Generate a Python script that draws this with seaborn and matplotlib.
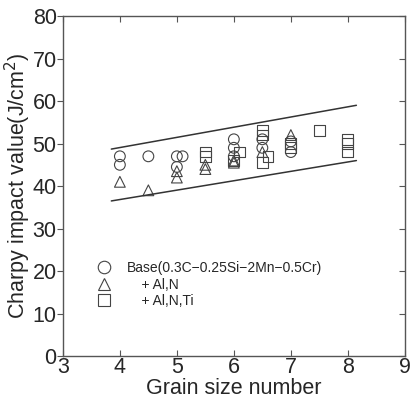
import matplotlib
matplotlib.use("Agg")
import matplotlib.pyplot as plt
import seaborn as sns
import pandas as pd

# -------- data --------
base_x = [4.0, 4.0, 4.5, 5.0, 5.1, 5.0, 6.0, 6.0, 6.0, 6.5, 6.5, 7.0, 7.0]
base_y = [47, 45, 47, 47, 47, 44.5, 51, 49, 47, 51, 49, 50.5, 48]

aln_x = [4.0, 4.5, 5.0, 5.0, 5.5, 5.5, 6.0, 6.0, 6.5, 7.0]
aln_y = [41, 39, 43.5, 42, 45, 44, 46, 45.5, 48, 52]

alnti_x = [5.5, 5.5, 6.1, 6.0, 6.5, 6.5, 6.6, 6.5, 7.0, 7.0, 7.5, 8.0, 8.0, 8.0]
alnti_y = [48, 47, 48, 46, 53, 52, 47, 45.5, 50, 49, 53, 51, 50, 48]

band_x = [3.85, 8.15]
upper_y = [48.7, 59.0]
lower_y = [36.5, 46.0]

labels = ["Base(0.3C\u22120.25Si\u22122Mn\u22120.5Cr)", "    + Al,N", "    + Al,N,Ti"]

df = pd.DataFrame({
    "grain": base_x + aln_x + alnti_x,
    "charpy": base_y + aln_y + alnti_y,
    "steel": [labels[0]] * len(base_x) + [labels[1]] * len(aln_x) + [labels[2]] * len(alnti_x),
})

sns.set_style("white")
plt.rcParams["font.family"] = ["Liberation Sans", "DejaVu Sans"]

fig = plt.figure(figsize=(4.11, 4.01), dpi=100)
ax = fig.add_axes([0.153, 0.112, 0.832, 0.848])

sns.scatterplot(data=df, x="grain", y="charpy", hue="steel", style="steel",
                markers=["o", "^", "s"], palette=["#444444"] * 3,
                s=60, linewidth=0.8, ax=ax)
# hollow markers
for coll in ax.collections:
    coll.set_facecolor("none")
    coll.set_edgecolor("#444444")

sns.lineplot(x=band_x, y=upper_y, color="#333333", linewidth=1.1, ax=ax)
sns.lineplot(x=band_x, y=lower_y, color="#333333", linewidth=1.1, ax=ax)

ax.set_xlim(3, 9)
ax.set_ylim(0, 80)
ax.set_xticks(range(3, 10))
ax.set_yticks(range(0, 81, 10))
ax.set_xlabel("Grain size number", fontsize=15.5, labelpad=0)
ax.set_ylabel("Charpy impact value(J/cm$^2$)", fontsize=15.5, labelpad=0)

for s in ax.spines.values():
    s.set_color("#555555")
    s.set_linewidth(1.0)

ax.tick_params(axis="x", which="both", direction="in", top=True, bottom=True,
               length=4, labelsize=15.5, pad=1, color="#555555")
ax.tick_params(axis="y", which="both", direction="out", left=True, length=4,
               labelsize=15.5, pad=0.5, color="#555555")
ax.tick_params(axis="y", which="both", right=True)
for t in ax.yaxis.get_ticklines()[1::2]:
    t.set_marker(0)  # right ticks point inward

handles, labs = ax.get_legend_handles_labels()
handles = handles[:3]
for h in handles:
    h.set_markerfacecolor("none")
    h.set_markeredgecolor("#444444")
    h.set_markersize(9)
ax.legend(handles, labels, loc="lower left", bbox_to_anchor=(0.06, 0.12),
          frameon=False, fontsize=10, handletextpad=0.6, labelspacing=0.2,
          borderpad=0)

fig.savefig("out.png", dpi=100)
